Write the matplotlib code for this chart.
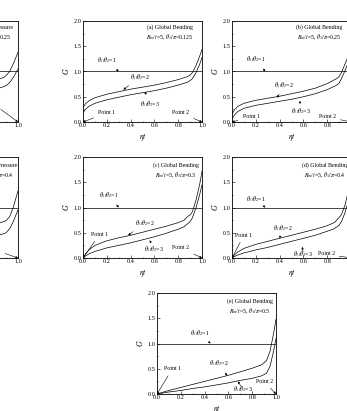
import matplotlib
matplotlib.use('Agg')
import matplotlib.pyplot as plt
from matplotlib.ticker import MultipleLocator

plt.rcParams['font.family'] = 'serif'
plt.rcParams['font.serif'] = ['Liberation Serif', 'DejaVu Serif']
plt.rcParams['mathtext.fontset'] = 'stix'

# eta/t positions
x_ab = [0, 0.02, 0.05, 0.1, 0.2, 0.3, 0.4, 0.5, 0.6, 0.7, 0.8, 0.88, 0.9, 0.92, 0.95, 0.98, 1.0]
x_cd = [0, 0.02, 0.05, 0.1, 0.2, 0.3, 0.4, 0.5, 0.6, 0.7, 0.8, 0.85, 0.87, 0.89, 0.9, 0.92, 0.95, 0.98, 1.0]
x_e = [0, 0.1, 0.2, 0.3, 0.4, 0.5, 0.6, 0.7, 0.8, 0.88, 0.92, 0.95, 0.98, 1.0]
x_p = [0, 0.2, 0.4, 0.6, 0.8, 0.85, 0.88, 0.9, 0.93, 0.96, 1.0]

# G for theta1/theta2 = 2 and 3 (theta1/theta2 = 1 gives G = 1)
a2 = [0.28, 0.36, 0.42, 0.48, 0.55, 0.60, 0.65, 0.69, 0.73, 0.78, 0.84, 0.90, 0.93, 0.98, 1.12, 1.30, 1.44]
a3 = [0.18, 0.25, 0.31, 0.37, 0.44, 0.49, 0.54, 0.58, 0.62, 0.67, 0.73, 0.79, 0.82, 0.86, 0.98, 1.14, 1.28]
b2 = [0.15, 0.24, 0.31, 0.37, 0.43, 0.47, 0.51, 0.56, 0.61, 0.67, 0.76, 0.86, 0.90, 0.98, 1.15, 1.32, 1.46]
b3 = [0.06, 0.14, 0.21, 0.27, 0.33, 0.37, 0.41, 0.45, 0.50, 0.56, 0.64, 0.73, 0.77, 0.86, 1.02, 1.20, 1.34]
c2 = [0, 0.08, 0.16, 0.25, 0.34, 0.40, 0.45, 0.51, 0.57, 0.63, 0.70, 0.75, 0.80, 0.84, 0.85, 0.92, 1.15, 1.45, 1.72]
c3 = [0, 0.04, 0.08, 0.13, 0.20, 0.25, 0.30, 0.36, 0.42, 0.49, 0.57, 0.62, 0.66, 0.70, 0.72, 0.80, 1.00, 1.25, 1.45]
d2 = [0, 0.06, 0.12, 0.19, 0.27, 0.33, 0.39, 0.45, 0.51, 0.57, 0.64, 0.69, 0.72, 0.78, 0.80, 0.86, 1.05, 1.35, 1.60]
d3 = [0, 0.03, 0.06, 0.10, 0.16, 0.21, 0.27, 0.33, 0.39, 0.45, 0.53, 0.57, 0.60, 0.63, 0.65, 0.72, 0.90, 1.15, 1.35]
e2 = [0, 0.07, 0.13, 0.19, 0.25, 0.31, 0.37, 0.44, 0.51, 0.58, 0.66, 0.85, 1.20, 1.48]
e3 = [0, 0.04, 0.07, 0.11, 0.14, 0.18, 0.22, 0.27, 0.31, 0.36, 0.41, 0.55, 0.85, 1.10]
pa2 = [0.30, 0.50, 0.60, 0.70, 0.82, 0.86, 0.88, 0.92, 1.00, 1.15, 1.38]
pa3 = [0.15, 0.35, 0.45, 0.55, 0.66, 0.68, 0.70, 0.72, 0.78, 0.88, 1.05]
pb2 = [0, 0.25, 0.38, 0.50, 0.65, 0.70, 0.72, 0.74, 0.82, 1.00, 1.33]
pb3 = [0, 0.15, 0.25, 0.33, 0.43, 0.46, 0.48, 0.50, 0.58, 0.72, 0.95]

titulos = ['(a) Global Bending', '(b) Global Bending', '(c) Global Bending',
           '(d) Global Bending', '(e) Global Bending']
razao = ['0.125', '0.25', '0.3', '0.4', '0.5']

fig = plt.figure(figsize=(3.47, 4.11), dpi=100)

def painel(pos, x, g2, g3, titulo, sub, notas, tpos):
    ax = fig.add_axes(pos)
    ax.axhline(1.0, color='k', lw=0.5)
    ax.plot(x, g2, color='k', lw=0.5)
    ax.plot(x, g3, color='k', lw=0.5)
    ax.set_xlim(0, 1)
    ax.set_ylim(0, 2)
    ax.xaxis.set_major_locator(MultipleLocator(0.2))
    ax.xaxis.set_minor_locator(MultipleLocator(0.1))
    ax.yaxis.set_major_locator(MultipleLocator(0.5))
    ax.yaxis.set_minor_locator(MultipleLocator(0.25))
    ax.xaxis.set_major_formatter(plt.FormatStrFormatter('%.1f'))
    ax.yaxis.set_major_formatter(plt.FormatStrFormatter('%.1f'))
    ax.tick_params(which='both', direction='in', width=0.4, labelsize=4.5, pad=1)
    ax.tick_params(which='major', length=2)
    ax.tick_params(which='minor', length=1)
    for s in ax.spines.values():
        s.set_linewidth(0.6)
    ax.set_xlabel(r'$\eta t$', fontsize=5.5, labelpad=2)
    ax.set_ylabel(r'$G$', fontsize=5.5, labelpad=2)
    ax.text(tpos[0], tpos[1], titulo + '\n' + r'$R_m$/$t$=5, $\theta_1/\pi$=' + sub,
            fontsize=4.2, ha='center', va='top', linespacing=1.3)
    for txt, xy, xyt in notas:
        ax.annotate(txt, xy=xy, xytext=xyt, fontsize=4.2, ha='center', va='center',
                    arrowprops=dict(arrowstyle='-|>', lw=0.4, color='k',
                                    mutation_scale=3, shrinkA=1.5, shrinkB=0))
    return ax

t1 = r'$\theta_1/\theta_2$=1'
t2 = r'$\theta_1/\theta_2$=2'
t3 = r'$\theta_1/\theta_2$=3'

W = 119 / 347
H = 101 / 411

# left column (internal pressure, mostly outside the picture)
painel([-101 / 347, 289 / 411, W, H], x_p, pa2, pa3, '(a) Internal Pressure', '0.25',
       [('Point 2', (1.0, 0.0), (0.78, 0.38))], (0.76, 1.94))
painel([-101 / 347, 153 / 411, W, H], x_p, pb2, pb3, '(b) Internal Pressure', '0.4',
       [('Point 2', (1.0, 0.0), (0.78, 0.18))], (0.79, 1.9))

painel([83 / 347, 289 / 411, W, H], x_ab, a2, a3, titulos[0], razao[0],
       [(t1, (0.3, 1.0), (0.2, 1.22)),
        (t2, (0.34, 0.64), (0.48, 0.9)),
        (t3, (0.52, 0.6), (0.56, 0.36)),
        ('Point 1', (0.0, 0.0), (0.2, 0.18)),
        ('Point 2', (1.0, 0.0), (0.82, 0.18))], (0.73, 1.93))
painel([232 / 347, 289 / 411, W, H], x_ab, b2, b3, titulos[1], razao[1],
       [(t1, (0.28, 1.0), (0.2, 1.24)),
        (t2, (0.38, 0.48), (0.44, 0.74)),
        (t3, (0.57, 0.42), (0.58, 0.22)),
        ('Point 1', (0.0, 0.0), (0.16, 0.1)),
        ('Point 2', (1.0, 0.0), (0.8, 0.1))], (0.73, 1.93))
painel([83 / 347, 153 / 411, W, H], x_cd, c2, c3, titulos[2], razao[2],
       [(t1, (0.3, 1.0), (0.22, 1.24)),
        (t2, (0.38, 0.45), (0.52, 0.7)),
        (t3, (0.56, 0.35), (0.6, 0.18)),
        ('Point 1', (0.0, 0.0), (0.14, 0.47)),
        ('Point 2', (1.0, 0.0), (0.82, 0.2))], (0.78, 1.9))
painel([232 / 347, 153 / 411, W, H], x_cd, d2, d3, titulos[3], razao[3],
       [(t1, (0.28, 1.0), (0.2, 1.16)),
        (t2, (0.4, 0.39), (0.43, 0.6)),
        (t3, (0.59, 0.22), (0.6, 0.08)),
        ('Point 1', (0.0, 0.0), (0.1, 0.45)),
        ('Point 2', (1.0, 0.0), (0.79, 0.08))], (0.78, 1.9))
painel([157 / 347, 17 / 411, W, H], x_e, e2, e3, titulos[4], razao[4],
       [(t1, (0.45, 1.0), (0.36, 1.2)),
        (t2, (0.59, 0.36), (0.52, 0.61)),
        (t3, (0.68, 0.25), (0.72, 0.1)),
        ('Point 1', (0.0, 0.0), (0.13, 0.5)),
        ('Point 2', (1.0, 0.0), (0.9, 0.25))], (0.78, 1.9))

plt.savefig('out.png', dpi=100)
